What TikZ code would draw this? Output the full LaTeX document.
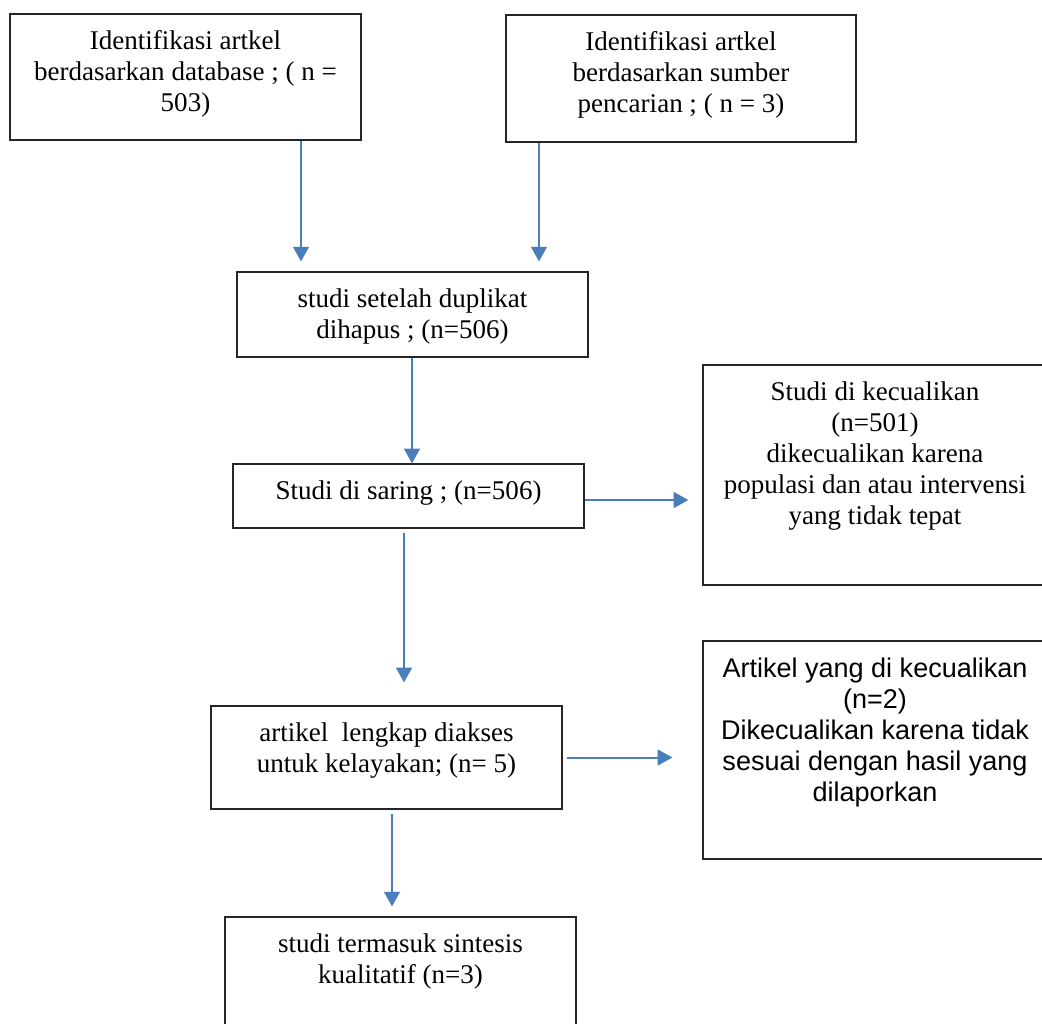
\documentclass[tikz,border=0pt]{standalone}
\usepackage{fontspec}
\setmainfont{Liberation Serif}
\newfontfamily\arialfont{Liberation Sans}
\usetikzlibrary{positioning,arrows.meta}
\definecolor{arrowblue}{HTML}{4A7EBB}
\def\px{0.444pt}

\begin{document}
\begin{tikzpicture}[x=\px, y=-\px,
    flowbox/.style={draw=black!85, line width=0.6pt, inner sep=0pt},
    flowtext/.style={align=center, inner sep=0pt, font=\fontsize{12}{13.8}\selectfont},
    flowarrow/.style={draw=arrowblue, line width=0.9pt, -{Triangle[width=7pt,length=6.5pt]}}]
      \path[use as bounding box, fill=white] (0,0) rectangle (1042,1023);

      \node[flowbox, minimum width=351*\px, minimum height=126*\px] (A) at (185.5,77) {};
      \node[flowtext, below=7.5pt of A.north] (tA) {Identifikasi artkel\\berdasarkan database ; ( n =\\503)};

      \node[flowbox, minimum width=350*\px, minimum height=127*\px] (B) at (681,78.5) {};
      \node[flowtext, below=7.5pt of B.north] (tB) {Identifikasi artkel\\berdasarkan sumber\\pencarian ; ( n = 3)};

      \node[flowbox, minimum width=351*\px, minimum height=85*\px] (C) at (412.5,314.5) {};
      \node[flowtext, below=7.5pt of C.north] (tC) {studi setelah duplikat\\dihapus ; (n=506)};

      \node[flowbox, minimum width=351*\px, minimum height=64*\px] (D) at (408.5,496) {};
      \node[flowtext, below=7.5pt of D.north] (tD) {Studi di saring ; (n=506)};

      \node[flowbox, minimum width=344*\px, minimum height=220*\px] (E) at (875,475) {};
      \node[flowtext, below=7.5pt of E.north] (tE) {Studi di kecualikan\\(n=501)\\dikecualikan karena\\populasi dan atau intervensi\\yang tidak tepat};

      \node[flowbox, minimum width=351*\px, minimum height=103*\px] (F) at (386.5,757.5) {};
      \node[flowtext, below=7.5pt of F.north] (tF) {artikel\ \ lengkap diakses\\untuk kelayakan; (n= 5)};

      \node[flowbox, minimum width=344*\px, minimum height=218*\px] (G) at (875,750) {};
      \node[flowtext, font=\arialfont\fontsize{12}{13.8}\selectfont, below=7.5pt of G.north] (tG) {Artikel yang di kecualikan\\(n=2)\\Dikecualikan karena tidak\\sesuai dengan hasil yang\\dilaporkan};

      \node[flowbox, minimum width=351*\px, minimum height=128*\px] (H) at (400.5,981) {};
      \node[flowtext, below=7.5pt of H.north] (tH) {studi termasuk sintesis\\kualitatif (n=3)};

      \coordinate (colA) at (301,0);
      \coordinate (colB) at (539,0);
      \coordinate (colC) at (412,0);
      \coordinate (colD) at (404,0);
      \coordinate (colF) at (392,0);
      \coordinate (rowD) at (0,500);

      \draw[flowarrow, shorten >=4.4pt] (A.south -| colA) -- (C.north -| colA);
      \draw[flowarrow, shorten >=4.4pt] (B.south -| colB) -- (C.north -| colB);
      \draw[flowarrow] (C.south -| colC) -- (D.north -| colC);
      \draw[flowarrow, shorten >=6.2pt] (D.east |- rowD) -- (E.west |- rowD);
      \draw[flowarrow, shorten <=1.8pt, shorten >=10.2pt] (D.south -| colD) -- (F.north -| colD);
      \draw[flowarrow, shorten <=1.8pt, shorten >=13.3pt] (F.east) -- (F.east -| G.west);
      \draw[flowarrow, shorten <=1.8pt, shorten >=4.4pt] (F.south -| colF) -- (H.north -| colF);
  \end{tikzpicture}
\end{document}
